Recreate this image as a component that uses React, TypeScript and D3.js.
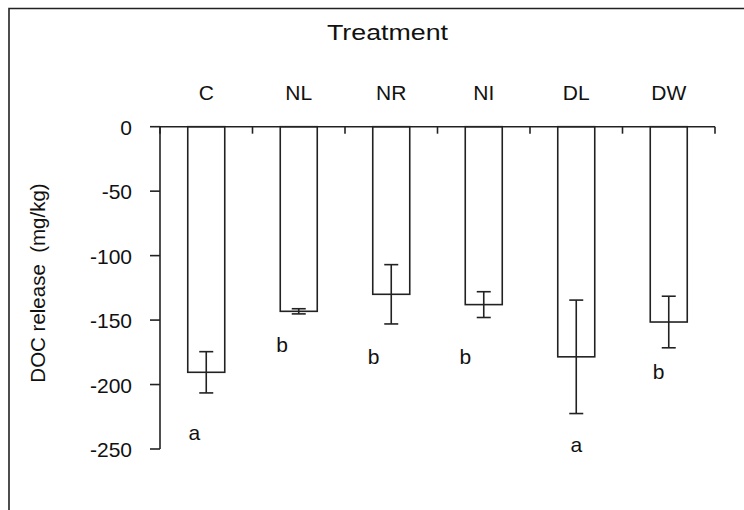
import React from "react";
import * as d3 from "d3";

const categories = ["C", "NL", "NR", "NI", "DL", "DW"];
const means = [-190.5, -143.2, -130, -138, -178.5, -151.5];
const errors = [16, 2, 23, 10, 44, 20];
const letters = ["a", "b", "b", "b", "a", "b"];
const letterValues = [-243, -175, -184, -184, -252, -196];
const letterShift = [-0.13, -0.18, -0.19, -0.2, 0, -0.11];
const yTicks = [0, -50, -100, -150, -200, -250];

const W = 744;
const H = 510;
const FONT = "'Liberation Sans', Arial, sans-serif";
const INK = "#222";
const FS = 21;

export default function App() {
  const x = d3
    .scaleBand<string>()
    .domain(categories)
    .range([160, 715])
    .paddingInner(0.6)
    .paddingOuter(0.3);
  const y = d3.scaleLinear().domain([0, -250]).range([126.7, 449]);
  const step = x.step();
  const bw = x.bandwidth();
  const y0 = y(0);

  return (
    <svg
      width={W}
      height={H}
      style={{ position: "absolute", left: 0, top: 0 }}
      fontFamily={FONT}
    >
      <rect width={W} height={H} fill="#fff" />
      {/* frame */}
      <path d={`M9,${H + 5} V8.5 H${W + 5}`} fill="none" stroke={INK} strokeWidth={1.6} />

      <text x={387.5} y={40} textAnchor="middle" fontSize={22} fill="#111" textLength={121} lengthAdjust="spacingAndGlyphs">
        Treatment
      </text>

      {/* category labels */}
      {categories.map((c) => (
        <text
          key={c}
          x={(x(c) as number) + bw / 2}
          y={99.5}
          textAnchor="middle"
          fontSize={FS}
          fill="#111"
        >
          {c}
        </text>
      ))}

      {/* y axis label */}
      <text
        transform={`translate(45,283) rotate(-90)`}
        textAnchor="middle"
        fontSize={20.5}
        fill="#111"
        style={{ whiteSpace: "pre" }}
      >
        DOC release  (mg/kg)
      </text>

      {/* bars */}
      {categories.map((c, i) => {
        const bx = x(c) as number;
        return (
          <rect
            key={c}
            x={bx}
            y={y0}
            width={bw}
            height={y(means[i]) - y0}
            fill="#fff"
            stroke={INK}
            strokeWidth={1.6}
          />
        );
      })}

      {/* error bars */}
      {categories.map((c, i) => {
        const cx = (x(c) as number) + bw / 2;
        const top = y(means[i] + errors[i]);
        const bot = y(means[i] - errors[i]);
        return (
          <g key={c} stroke={INK} strokeWidth={1.6}>
            <line x1={cx} x2={cx} y1={top} y2={bot} />
            <line x1={cx - 7} x2={cx + 7} y1={top} y2={top} />
            <line x1={cx - 7} x2={cx + 7} y1={bot} y2={bot} />
          </g>
        );
      })}

      {/* x axis line + ticks */}
      <line x1={160} x2={715} y1={y0} y2={y0} stroke={INK} strokeWidth={1.6} />
      {d3.range(categories.length + 1).map((k) => (
        <line
          key={k}
          x1={160 + k * step}
          x2={160 + k * step}
          y1={y0}
          y2={y0 + 7}
          stroke={INK}
          strokeWidth={1.6}
        />
      ))}

      {/* y axis */}
      <line x1={160} x2={160} y1={y0} y2={y(-250)} stroke={INK} strokeWidth={1.6} />
      {yTicks.map((t) => (
        <g key={t}>
          <line x1={150} x2={160} y1={y(t)} y2={y(t)} stroke={INK} strokeWidth={1.6} />
          <text x={132} y={y(t) + 8} textAnchor="end" fontSize={FS} fill="#111">
            {t}
          </text>
        </g>
      ))}

      {/* letters */}
      {categories.map((c, i) => (
        <text
          key={c}
          x={(x(c) as number) + bw / 2 + letterShift[i] * step}
          y={y(letterValues[i])}
          textAnchor="middle"
          fontSize={FS}
          fill="#111"
        >
          {letters[i]}
        </text>
      ))}
    </svg>
  );
}
